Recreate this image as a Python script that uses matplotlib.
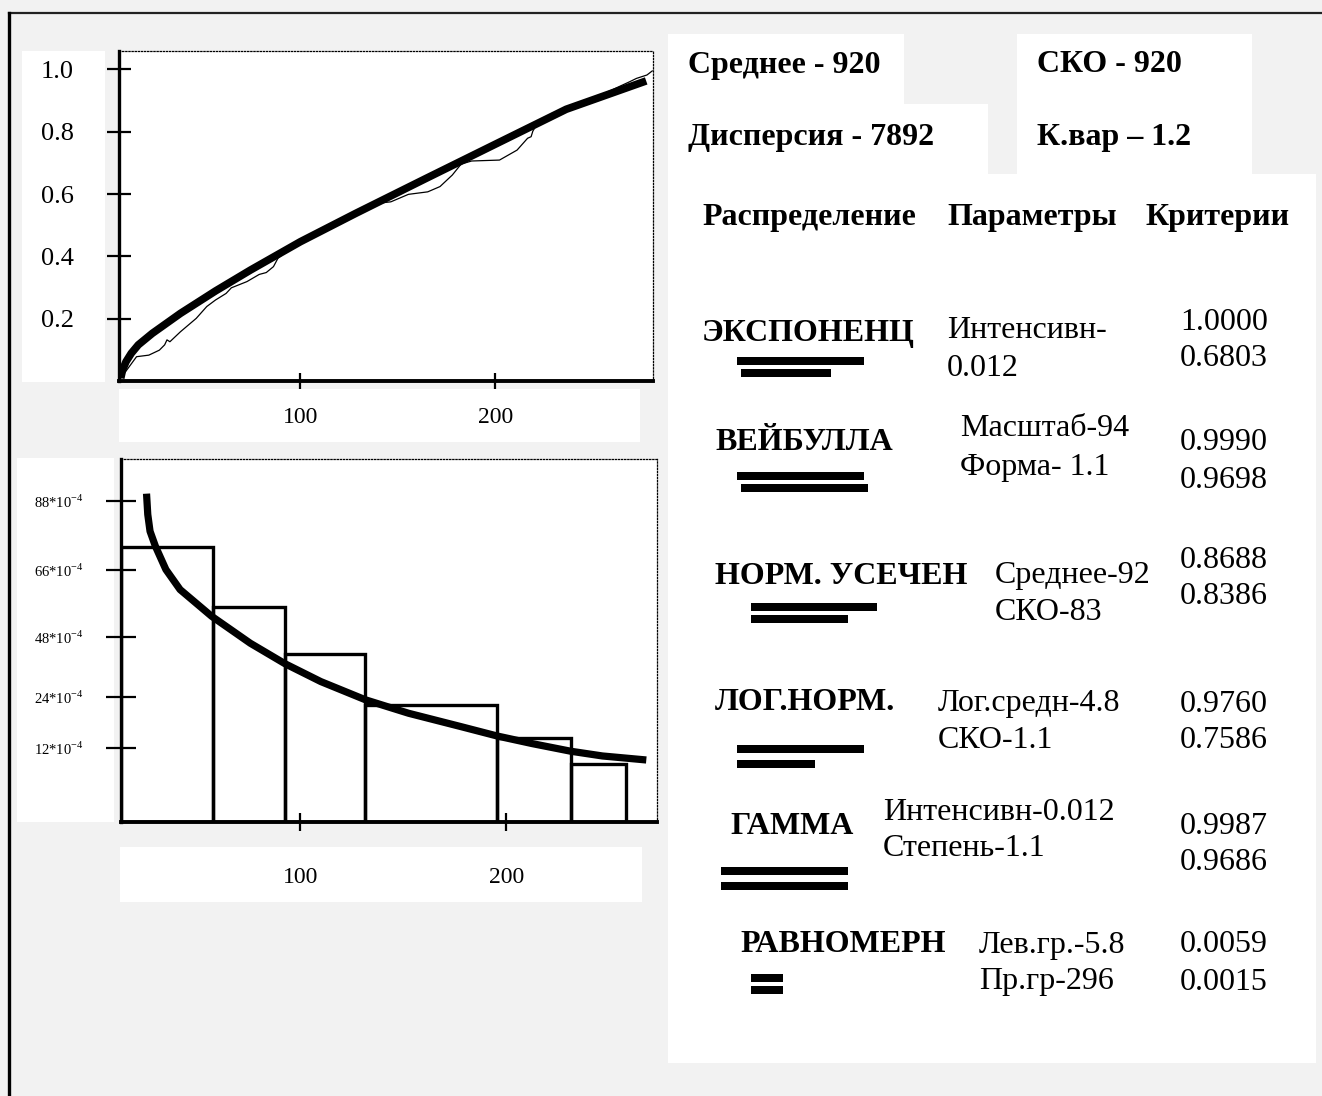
import matplotlib
matplotlib.use("Agg")
import matplotlib.pyplot as plt
from matplotlib.patches import Rectangle

plt.rcParams['font.family'] = ['Liberation Serif', 'DejaVu Serif']
plt.rcParams['mathtext.fontset'] = 'custom'
plt.rcParams['mathtext.rm'] = 'Liberation Serif'

W, H = 1322, 1096
GRAY = '#f2f2f2'

# ---- top plot: fitted CDF (thick) and empirical CDF (thin)
cdf_x = [7.9, 8.8, 10.6, 13.3, 16.9, 24.1, 38.5, 56.5, 74.4, 100, 128.4, 164.4, 200, 236.3, 277.3]
cdf_y = [0.009, 0.035, 0.062, 0.089, 0.116, 0.153, 0.217, 0.289, 0.356, 0.447, 0.538, 0.650,
         0.760, 0.872, 0.963]
emp_x = [7.9, 16.0, 22.3, 27.7, 30.4, 31.6, 33.1, 38.5, 46.6, 52.0, 56.5, 61.9, 64.6, 72.6,
         78.9, 82.5, 86.2, 88.5, 92.4, 100, 128.4, 139.2, 146.4, 155.4, 165.3, 171.6, 177.9,
         182.4, 187.8, 202.1, 211.1, 216.5, 218.3, 219.2, 221.0, 229.1, 236.3, 241.7, 268.7,
         272.3, 277.7, 280.4]
emp_y = [0.009, 0.078, 0.083, 0.099, 0.116, 0.132, 0.126, 0.158, 0.201, 0.239, 0.260, 0.281,
         0.299, 0.319, 0.342, 0.348, 0.367, 0.394, 0.413, 0.445, 0.536, 0.570, 0.575, 0.599,
         0.607, 0.624, 0.661, 0.696, 0.706, 0.709, 0.741, 0.779, 0.784, 0.802, 0.821, 0.859,
         0.877, 0.882, 0.960, 0.971, 0.982, 0.995]
cdf_ticks = [0.2, 0.4, 0.6, 0.8, 1.0]
cdf_ticklabels = ['0.2', '0.4', '0.6', '0.8', '1.0']

# ---- bottom plot: histogram and fitted density
bin_edges = [12.9, 57.8, 92.5, 131.6, 195.4, 231.3, 258.3]
bin_heights = [75.4, 58.9, 46.1, 32.1, 22.9, 15.9]
pdf_x = [25.3, 25.9, 27.0, 29.6, 34.7, 41.6, 56.9, 75.7, 92.5, 109.9, 131.6, 152.6, 178.3,
         195.4, 212.5, 231.3, 246.7, 268.0]
pdf_y = [90.0, 84.3, 79.7, 75.6, 69.2, 63.7, 56.4, 49.0, 43.4, 38.5, 33.5, 29.8, 26.1, 23.6,
         21.5, 19.4, 18.1, 17.0]
pdf_ticks = [20.2, 34.2, 50.7, 69.2, 88.0]
pdf_ticklabels = ['12*10$^{-4}$', '24*10$^{-4}$', '48*10$^{-4}$', '66*10$^{-4}$', '88*10$^{-4}$']
x_ticks = [100, 200]

# ---- right panel
stats_left = ['Среднее - 920', 'Дисперсия - 7892']
stats_right = ['СКО - 920', 'К.вар – 1.2']
headers = ['Распределение', 'Параметры', 'Критерии']
dist_names = ['ЭКСПОНЕНЦ', 'ВЕЙБУЛЛА', 'НОРМ. УСЕЧЕН', 'ЛОГ.НОРМ.', 'ГАММА', 'РАВНОМЕРН']
dist_params = [('Интенсивн-', '0.012'), ('Масштаб-94', 'Форма- 1.1'), ('Среднее-92', 'СКО-83'),
               ('Лог.средн-4.8', 'СКО-1.1'), ('Интенсивн-0.012', 'Степень-1.1'),
               ('Лев.гр.-5.8', 'Пр.гр-296')]
crit1 = ['1.0000', '0.9990', '0.8688', '0.9760', '0.9987', '0.0059']
crit2 = ['0.6803', '0.9698', '0.8386', '0.7586', '0.9686', '0.0015']
bar_len1 = [127, 127, 126, 127, 127, 32]
bar_len2 = [90, 127, 97, 78, 127, 32]

fig = plt.figure(figsize=(W / 100, H / 100), dpi=100, facecolor=GRAY)
canvas = fig.add_axes([0, 0, 1, 1])
canvas.set_xlim(0, W)
canvas.set_ylim(H, 0)
canvas.axis('off')


def box(x0, y0, x1, y1):
    canvas.add_patch(Rectangle((x0, y0), x1 - x0, y1 - y0, facecolor='white', edgecolor='none'))


# frame (top and left edges only)
canvas.plot([9, W], [13, 13], color='#222222', lw=1.6)
canvas.plot([9, 9], [13, H], color='black', lw=2.4)

# white label boxes of the plots
box(22, 51, 105, 382)
box(119, 389, 640, 442)
box(17, 458, 114, 822)
box(120, 847, 642, 902)

# right panel boxes
box(668, 34, 904, 104)
box(668, 104, 988, 174)
box(1017, 34, 1252, 174)
box(668, 174, 1316, 1063)


def axes_px(x0, y0, x1, y1):
    return fig.add_axes([x0 / W, 1 - y1 / H, (x1 - x0) / W, (y1 - y0) / H])


def style_axes(ax, ylen, xlen, ypad, xpad, ylab_size):
    ax.set_facecolor('white')
    for s in ('top', 'right'):
        ax.spines[s].set_linestyle((0, (1, 1.5)))
        ax.spines[s].set_linewidth(0.9)
    ax.spines['left'].set_linewidth(2.4)
    ax.spines['bottom'].set_linewidth(2.8)
    ax.tick_params(axis='y', direction='inout', length=ylen, width=1.6, pad=ypad, labelsize=ylab_size)
    ax.tick_params(axis='x', direction='inout', length=xlen, width=1.6, pad=xpad, labelsize=17)


# ---- top plot
ax1 = axes_px(119, 51, 653, 381)
ax1.plot(emp_x, emp_y, color='black', lw=0.9)
ax1.plot(cdf_x, cdf_y, color='black', lw=5.5, solid_capstyle='butt')
ax1.set_xlim(7.0, 280.8)
ax1.set_ylim(0, 1.059)
ax1.set_xticks(x_ticks)
ax1.set_yticks(cdf_ticks)
ax1.set_yticklabels(cdf_ticklabels)
style_axes(ax1, 17, 11, 24, 13, 19)

# ---- bottom plot
ax2 = axes_px(121, 459, 657, 822)
widths = [b - a for a, b in zip(bin_edges[:-1], bin_edges[1:])]
ax2.bar(bin_edges[:-1], bin_heights, width=widths, align='edge', facecolor='none',
        edgecolor='black', lw=2.4)
ax2.plot(pdf_x, pdf_y, color='black', lw=5.2, solid_capstyle='butt')
ax2.set_xlim(12.9, 273.2)
ax2.set_ylim(0, 99.5)
ax2.set_xticks(x_ticks)
ax2.set_yticks(pdf_ticks)
ax2.set_yticklabels(pdf_ticklabels)
style_axes(ax2, 22, 13, 16, 26, 10.5)

# ---- right panel text
bold = dict(fontsize=23, fontweight='bold', va='center', color='black')
reg = dict(fontsize=23, va='center', color='black')
for txt, y in zip(stats_left, [65, 137]):
    canvas.text(688, y, txt, ha='left', **bold)
for txt, y in zip(stats_right, [65, 137]):
    canvas.text(1037, y, txt, ha='left', **bold)
for txt, x in zip(headers, [702, 947, 1145]):
    canvas.text(x, 218, txt, ha='left', **bold)

name_pos = [(702, 333), (715, 443), (715, 577), (715, 703), (730, 827), (740, 945)]
param_pos = [(947, 331, 369), (960, 429, 467), (995, 576, 613), (938, 703, 740),
             (883, 813, 849), (979, 945, 982)]
crit_y = [(322, 358), (443, 480), (561, 597), (704, 740), (827, 863), (945, 982)]
bar_pos = [(737, 741, 361, 373), (737, 741, 476, 488), (751, 751, 607, 619),
           (737, 737, 749, 764), (721, 721, 871, 886), (751, 751, 978, 990)]

for i, name in enumerate(dist_names):
    nx, ny = name_pos[i]
    canvas.text(nx, ny, name, ha='left', **bold)
    px, py1, py2 = param_pos[i]
    canvas.text(px, py1, dist_params[i][0], ha='left', **reg)
    canvas.text(px, py2, dist_params[i][1], ha='left', **reg)
    cy1, cy2 = crit_y[i]
    canvas.text(1268, cy1, crit1[i], ha='right', **reg)
    canvas.text(1268, cy2, crit2[i], ha='right', **reg)
    bx1, bx2, by1, by2 = bar_pos[i]
    canvas.barh([by1, by2], [bar_len1[i], bar_len2[i]], left=[bx1, bx2], height=8, color='black')

fig.savefig('out.png', dpi=100, facecolor=GRAY)
